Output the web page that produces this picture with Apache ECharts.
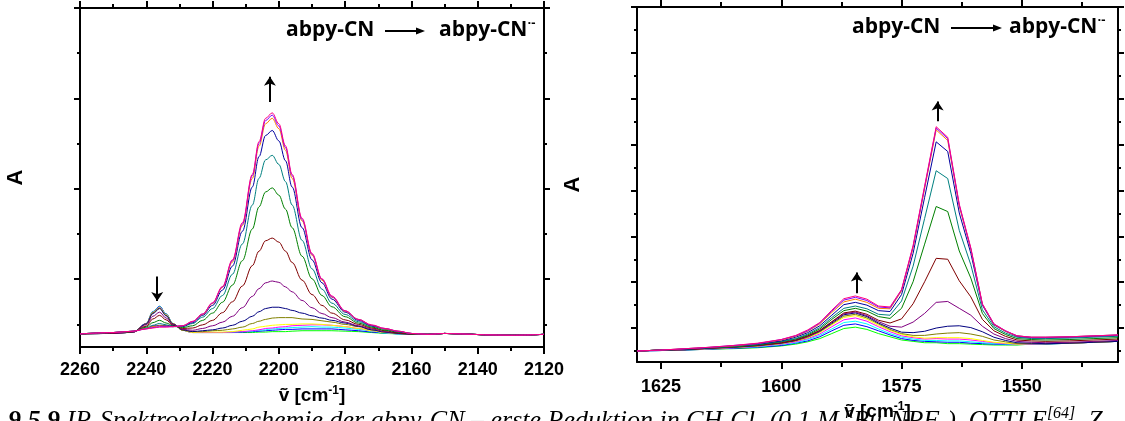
<!DOCTYPE html>
<html>
<head>
<meta charset="utf-8">
<script src="https://cdn.jsdelivr.net/npm/echarts@6/dist/echarts.min.js"></script>
<style>
  html, body { margin: 0; padding: 0; background: #ffffff; }
  #chart { width: 1125px; height: 421px; }
</style>
</head>
<body>
<div id="chart"></div>
<script>
// ---------- Nitrile stretch region (left panel), wavenumbers in cm^-1 ----------
const cnWave = [2260,2250,2244,2240,2238,2236,2234,2232,2229,2226,2223,2220,2217,2214,2211,2208,2206,2204,2202,2200,2198,2196,2193,2190,2187,2184,2180,2176,2172,2168,2164,2160,2155,2150,2145,2138,2130,2120];

// absorbance traces, in the order they were recorded during the reduction
const cnStep01 = [-0.021,-0.020,-0.017,0.002,0.028,0.040,0.023,0.002,-0.013,-0.018,-0.018,-0.018,-0.018,-0.018,-0.018,-0.018,-0.017,-0.017,-0.016,-0.016,-0.016,-0.015,-0.014,-0.014,-0.014,-0.014,-0.015,-0.016,-0.018,-0.020,-0.021,-0.022,-0.022,-0.020,-0.021,-0.023,-0.024,-0.022];
const cnStep02 = [-0.021,-0.020,-0.017,0.002,0.028,0.040,0.023,0.002,-0.013,-0.018,-0.018,-0.018,-0.018,-0.018,-0.017,-0.016,-0.015,-0.014,-0.013,-0.012,-0.011,-0.011,-0.010,-0.010,-0.010,-0.010,-0.012,-0.014,-0.017,-0.019,-0.021,-0.022,-0.022,-0.020,-0.021,-0.023,-0.024,-0.022];
const cnStep03 = [-0.021,-0.020,-0.017,0.002,0.028,0.039,0.022,0.002,-0.013,-0.018,-0.018,-0.018,-0.018,-0.017,-0.016,-0.015,-0.013,-0.012,-0.010,-0.009,-0.008,-0.007,-0.006,-0.005,-0.006,-0.006,-0.008,-0.011,-0.015,-0.019,-0.021,-0.022,-0.022,-0.020,-0.021,-0.023,-0.024,-0.022];
const cnStep04 = [-0.021,-0.020,-0.017,0.002,0.027,0.038,0.021,0.002,-0.013,-0.018,-0.018,-0.018,-0.018,-0.017,-0.016,-0.014,-0.012,-0.009,-0.008,-0.006,-0.005,-0.003,-0.002,-0.001,-0.001,-0.002,-0.005,-0.009,-0.014,-0.018,-0.020,-0.022,-0.022,-0.020,-0.021,-0.023,-0.024,-0.022];
const cnStep05 = [-0.021,-0.020,-0.017,0.001,0.026,0.037,0.021,0.002,-0.013,-0.018,-0.017,-0.017,-0.017,-0.016,-0.013,-0.010,-0.006,-0.004,-0.002,-0.001,0.000,0.000,0.001,0.001,0.000,-0.002,-0.005,-0.009,-0.014,-0.018,-0.020,-0.022,-0.022,-0.020,-0.021,-0.023,-0.024,-0.022];
const cnStep06 = [-0.021,-0.020,-0.017,0.001,0.026,0.036,0.020,0.001,-0.013,-0.016,-0.016,-0.014,-0.013,-0.010,-0.006,0.002,0.007,0.011,0.014,0.015,0.015,0.015,0.012,0.011,0.008,0.005,0.000,-0.005,-0.012,-0.017,-0.020,-0.022,-0.022,-0.020,-0.021,-0.023,-0.024,-0.022];
const cnStep07 = [-0.021,-0.020,-0.017,0.001,0.024,0.035,0.019,0.001,-0.012,-0.016,-0.014,-0.012,-0.008,-0.002,0.007,0.018,0.028,0.035,0.038,0.038,0.035,0.031,0.025,0.019,0.014,0.009,0.003,-0.004,-0.012,-0.017,-0.020,-0.022,-0.022,-0.020,-0.021,-0.023,-0.024,-0.022];
const cnStep08 = [-0.021,-0.020,-0.017,-0.001,0.018,0.027,0.014,0.000,-0.011,-0.013,-0.009,-0.003,0.005,0.018,0.037,0.062,0.079,0.092,0.096,0.093,0.083,0.072,0.053,0.037,0.024,0.015,0.005,-0.003,-0.010,-0.016,-0.019,-0.022,-0.022,-0.020,-0.021,-0.023,-0.024,-0.022];
const cnStep09 = [-0.021,-0.019,-0.016,-0.004,0.012,0.020,0.010,-0.002,-0.009,-0.008,-0.001,0.009,0.026,0.050,0.085,0.130,0.162,0.185,0.191,0.182,0.162,0.137,0.098,0.066,0.042,0.025,0.010,0.000,-0.008,-0.014,-0.019,-0.021,-0.022,-0.020,-0.021,-0.023,-0.024,-0.022];
const cnStep10 = [-0.021,-0.018,-0.016,-0.006,0.004,0.009,0.003,-0.003,-0.007,-0.003,0.009,0.025,0.049,0.087,0.141,0.211,0.260,0.293,0.302,0.286,0.255,0.214,0.151,0.101,0.064,0.039,0.017,0.003,-0.006,-0.013,-0.017,-0.021,-0.022,-0.020,-0.021,-0.023,-0.024,-0.022];
const cnStep11 = [-0.021,-0.018,-0.015,-0.008,-0.002,0.002,-0.001,-0.005,-0.005,0.002,0.016,0.035,0.064,0.111,0.178,0.264,0.323,0.364,0.374,0.354,0.316,0.264,0.186,0.123,0.078,0.047,0.022,0.006,-0.004,-0.011,-0.016,-0.020,-0.022,-0.020,-0.021,-0.023,-0.024,-0.022];
const cnStep12 = [-0.021,-0.018,-0.015,-0.009,-0.004,-0.002,-0.003,-0.004,-0.004,0.004,0.020,0.042,0.076,0.129,0.206,0.304,0.371,0.418,0.429,0.406,0.362,0.304,0.214,0.143,0.092,0.056,0.027,0.009,-0.003,-0.010,-0.016,-0.020,-0.022,-0.020,-0.021,-0.023,-0.024,-0.022];
const cnStep13 = [-0.021,-0.018,-0.015,-0.009,-0.005,-0.003,-0.004,-0.005,-0.003,0.006,0.022,0.046,0.082,0.138,0.219,0.323,0.394,0.444,0.456,0.433,0.385,0.323,0.229,0.153,0.098,0.060,0.029,0.011,-0.002,-0.010,-0.015,-0.020,-0.022,-0.020,-0.021,-0.023,-0.024,-0.022];
const cnStep14 = [-0.021,-0.018,-0.015,-0.010,-0.007,-0.005,-0.005,-0.005,-0.003,0.006,0.023,0.047,0.083,0.141,0.222,0.329,0.400,0.451,0.463,0.439,0.391,0.329,0.232,0.155,0.100,0.061,0.030,0.011,-0.002,-0.009,-0.015,-0.020,-0.022,-0.020,-0.021,-0.023,-0.024,-0.022];
const cnStep15 = [-0.021,-0.018,-0.015,-0.010,-0.008,-0.006,-0.006,-0.005,-0.003,0.007,0.023,0.048,0.084,0.143,0.225,0.332,0.404,0.456,0.468,0.444,0.395,0.332,0.235,0.157,0.101,0.063,0.030,0.011,-0.001,-0.009,-0.015,-0.020,-0.022,-0.020,-0.021,-0.023,-0.024,-0.022];

// ---------- Ring mode region (right panel) ----------
const ringWave = [1630,1625,1620,1615,1610,1605,1600,1597,1594.5,1592,1589.5,1587,1584.6,1582.2,1579.8,1577.4,1575,1572.6,1570.2,1567.8,1565.4,1563,1560.6,1558.2,1555.8,1553.4,1551,1548,1545,1540,1535,1530];

const ringStep01 = [0,0.001,0.002,0.004,0.005,0.007,0.011,0.015,0.020,0.027,0.038,0.049,0.052,0.047,0.038,0.031,0.024,0.021,0.018,0.018,0.016,0.016,0.015,0.014,0.013,0.013,0.013,0.015,0.015,0.017,0.019,0.021];
const ringStep02 = [0,0.001,0.002,0.004,0.006,0.008,0.012,0.017,0.022,0.031,0.044,0.056,0.059,0.053,0.044,0.035,0.027,0.023,0.021,0.020,0.019,0.019,0.017,0.016,0.015,0.014,0.014,0.015,0.015,0.017,0.019,0.021];
const ringStep03 = [0,0.001,0.003,0.005,0.007,0.009,0.014,0.018,0.025,0.034,0.048,0.062,0.065,0.059,0.048,0.038,0.030,0.026,0.023,0.023,0.022,0.022,0.020,0.018,0.016,0.015,0.014,0.015,0.016,0.017,0.019,0.021];
const ringStep04 = [0,0.001,0.003,0.005,0.007,0.010,0.015,0.020,0.027,0.037,0.053,0.068,0.072,0.065,0.053,0.042,0.033,0.029,0.026,0.027,0.026,0.026,0.024,0.021,0.018,0.016,0.015,0.015,0.016,0.017,0.019,0.021];
const ringStep05 = [0,0.002,0.003,0.005,0.008,0.011,0.016,0.022,0.029,0.040,0.057,0.073,0.077,0.069,0.056,0.045,0.036,0.031,0.028,0.029,0.029,0.029,0.027,0.023,0.019,0.017,0.015,0.016,0.016,0.017,0.019,0.021];
const ringStep06 = [0,0.002,0.003,0.006,0.008,0.011,0.017,0.022,0.030,0.042,0.059,0.076,0.080,0.072,0.059,0.047,0.038,0.034,0.034,0.037,0.039,0.040,0.037,0.032,0.024,0.020,0.016,0.016,0.016,0.017,0.019,0.021];
const ringStep07 = [0,0.002,0.003,0.006,0.008,0.012,0.017,0.023,0.032,0.043,0.061,0.079,0.083,0.075,0.061,0.050,0.041,0.040,0.043,0.050,0.054,0.055,0.051,0.042,0.030,0.023,0.018,0.017,0.016,0.017,0.019,0.021];
const ringStep08 = [0,0.002,0.003,0.006,0.009,0.012,0.018,0.024,0.032,0.044,0.063,0.081,0.085,0.077,0.064,0.054,0.052,0.063,0.082,0.106,0.108,0.093,0.078,0.054,0.037,0.027,0.021,0.019,0.018,0.019,0.021,0.023];
const ringStep09 = [0,0.002,0.003,0.006,0.009,0.012,0.018,0.024,0.033,0.045,0.064,0.083,0.087,0.080,0.067,0.061,0.070,0.103,0.151,0.202,0.200,0.153,0.118,0.069,0.044,0.032,0.024,0.022,0.021,0.022,0.024,0.026];
const ringStep10 = [0,0.002,0.004,0.007,0.009,0.013,0.020,0.026,0.035,0.048,0.069,0.088,0.093,0.087,0.075,0.071,0.093,0.151,0.233,0.315,0.304,0.218,0.159,0.082,0.049,0.036,0.027,0.025,0.024,0.025,0.027,0.029];
const ringStep11 = [0,0.002,0.004,0.007,0.010,0.014,0.021,0.027,0.037,0.051,0.073,0.093,0.098,0.092,0.080,0.078,0.109,0.185,0.289,0.393,0.376,0.263,0.188,0.090,0.053,0.039,0.030,0.027,0.027,0.028,0.030,0.032];
const ringStep12 = [0,0.002,0.004,0.007,0.011,0.015,0.022,0.030,0.040,0.055,0.078,0.101,0.106,0.100,0.088,0.086,0.123,0.213,0.335,0.456,0.435,0.301,0.213,0.100,0.057,0.043,0.032,0.029,0.029,0.030,0.032,0.034];
const ringStep13 = [0,0.002,0.005,0.008,0.011,0.016,0.024,0.032,0.043,0.059,0.084,0.107,0.113,0.106,0.093,0.092,0.131,0.225,0.354,0.482,0.459,0.315,0.222,0.102,0.058,0.043,0.033,0.030,0.030,0.031,0.033,0.035];
const ringStep14 = [0,0.002,0.005,0.008,0.012,0.016,0.025,0.033,0.044,0.061,0.087,0.111,0.117,0.110,0.096,0.094,0.133,0.228,0.357,0.486,0.463,0.318,0.223,0.102,0.059,0.044,0.033,0.030,0.030,0.031,0.033,0.035];
const ringStep15 = [0,0.002,0.005,0.008,0.012,0.017,0.025,0.034,0.046,0.062,0.089,0.114,0.120,0.113,0.098,0.096,0.134,0.230,0.360,0.489,0.466,0.320,0.225,0.103,0.059,0.044,0.033,0.030,0.030,0.031,0.033,0.035];

// trace colours, one per recorded spectrum
const traceColors = ['#00ff00','#0000ff','#00ffff','#ff00ff','#ffff00','#808000','#000080','#800080','#800000','#008000','#008080','#0000a0','#ff8000','#8000ff','#ff0080'];

// axis ticks
const cnTickStep = 20;
const cnYMajor = [0.1, 0.3, 0.5, 0.7];
const cnYMinor = [0.0, 0.2, 0.4, 0.6];
const ringXMajor = [1625, 1600, 1575, 1550];
const ringXMinor = [1612.5, 1587.5, 1562.5, 1537.5];
const ringYMajor = [0.05, 0.15, 0.25, 0.35, 0.45, 0.55, 0.65, 0.75];
const ringYMinor = [0.0, 0.1, 0.2, 0.3, 0.4, 0.5, 0.6, 0.7];

// trend arrows: [wavenumber, tail absorbance, tip absorbance]
const cnArrows = [[2202.7, 0.492, 0.548], [2236.7, 0.106, 0.052]];
const ringArrows = [[1567.5, 0.501, 0.544], [1584.3, 0.126, 0.171]];

// text
const annotationFrom = 'abpy-CN';
const annotationTo = 'abpy-CN';
const annotationCharge = '·-';
const axisTitle = 'ṽ [cm{s|-1}]';
const captionText = '{b|9.5.9} IR-Spektroelektrochemie der abpy-CN – erste Reduktion in CH{d|2}Cl{d|2} (0.1 M {u|n}Bu{d|4}NPF{d|6}), OTTLE{u|[64]}, Z';

// ---------- building the chart ----------
const cnSteps = [cnStep01,cnStep02,cnStep03,cnStep04,cnStep05,cnStep06,cnStep07,cnStep08,cnStep09,cnStep10,cnStep11,cnStep12,cnStep13,cnStep14,cnStep15];
const ringSteps = [ringStep01,ringStep02,ringStep03,ringStep04,ringStep05,ringStep06,ringStep07,ringStep08,ringStep09,ringStep10,ringStep11,ringStep12,ringStep13,ringStep14,ringStep15];

const SANS = '"Liberation Sans", Arial, "DejaVu Sans", sans-serif';
const black2 = { color: '#000', width: 2 };
const tickLabel = { color: '#000', fontSize: 18, fontWeight: 'bold', fontFamily: SANS, formatter: v => String(v) };
const titleStyle = {
  color: '#000', fontSize: 19, fontWeight: 'bold', fontFamily: SANS, lineHeight: 22,
  rich: { s: { color: '#000', fontSize: 12, fontWeight: 'bold', fontFamily: SANS, lineHeight: 12, verticalAlign: 'top' } }
};
const yNameStyle = { color: '#000', fontSize: 22, fontWeight: 'bold', fontFamily: SANS };
const hiddenLine = { show: false, onZero: false };

function frameAxis(extra) {
  return Object.assign({
    type: 'value',
    splitLine: { show: false },
    minorSplitLine: { show: false },
    axisLine: { show: true, onZero: false, lineStyle: black2 },
    axisLabel: { show: false },
    axisTick: { show: false }
  }, extra);
}

const xAxes = [
  // nitrile panel, bottom
  frameAxis({
    gridIndex: 0, position: 'bottom', min: 2120, max: 2260, interval: cnTickStep, inverse: true,
    axisTick: { show: true, length: 7, lineStyle: black2 },
    minorTick: { show: true, splitNumber: 2, length: 4, lineStyle: black2 },
    axisLabel: Object.assign({ show: true, margin: 14 }, tickLabel),
    name: axisTitle, nameLocation: 'middle', nameGap: 38, nameTextStyle: titleStyle
  }),
  // nitrile panel, top frame
  frameAxis({
    gridIndex: 0, position: 'top', min: 2120, max: 2260, interval: cnTickStep, inverse: true,
    axisTick: { show: true, length: 7, lineStyle: black2 },
    minorTick: { show: true, splitNumber: 2, length: 4, lineStyle: black2 }
  }),
  // ring panel, bottom (major ticks and labels)
  frameAxis({
    gridIndex: 1, position: 'bottom', min: 1530, max: 1630, inverse: true,
    axisTick: { show: true, length: 7, customValues: ringXMajor, lineStyle: black2 },
    axisLabel: Object.assign({ show: true, margin: 16, customValues: ringXMajor }, tickLabel),
    name: axisTitle, nameLocation: 'middle', nameGap: 38, nameTextStyle: titleStyle
  }),
  // ring panel, bottom minor ticks
  frameAxis({
    gridIndex: 1, position: 'bottom', min: 1530, max: 1630, inverse: true,
    axisLine: hiddenLine,
    axisTick: { show: true, length: 5, customValues: ringXMinor, lineStyle: black2 }
  }),
  // ring panel, top frame
  frameAxis({
    gridIndex: 1, position: 'top', min: 1530, max: 1630, inverse: true,
    axisTick: { show: true, length: 7, customValues: ringXMajor, lineStyle: black2 }
  }),
  frameAxis({
    gridIndex: 1, position: 'top', min: 1530, max: 1630, inverse: true,
    axisLine: hiddenLine,
    axisTick: { show: true, length: 5, customValues: ringXMinor, lineStyle: black2 }
  })
];

function yPair(gridIndex, position, min, max, major, minor, withName) {
  const main = frameAxis({
    gridIndex, position, min, max,
    axisTick: { show: true, length: 6, customValues: major, lineStyle: black2 }
  });
  if (withName) {
    Object.assign(main, { name: 'A', nameLocation: 'middle', nameGap: 53, nameRotate: 90, nameTextStyle: yNameStyle });
  }
  const sub = frameAxis({
    gridIndex, position, min, max,
    axisLine: hiddenLine,
    axisTick: { show: true, length: 3, customValues: minor, lineStyle: black2 }
  });
  return [main, sub];
}

const yAxes = [].concat(
  yPair(0, 'left', -0.05, 0.70, cnYMajor, cnYMinor, true),      // 0,1
  yPair(0, 'right', -0.05, 0.70, cnYMajor, cnYMinor, false),    // 2,3
  yPair(1, 'left', -0.024, 0.75, ringYMajor, ringYMinor, true), // 4,5
  yPair(1, 'right', -0.024, 0.75, ringYMajor, ringYMinor, false)// 6,7
);

function arrowMarks(list) {
  return {
    silent: true,
    animation: false,
    symbol: ['none', 'arrow'],
    symbolSize: 9,
    lineStyle: { color: '#000', width: 2, type: 'solid' },
    label: { show: false },
    emphasis: { disabled: true },
    data: list.map(a => [{ coord: [a[0], a[1]] }, { coord: [a[0], a[2]] }])
  };
}

const series = [];
cnSteps.forEach((vals, i) => {
  series.push({
    type: 'line', xAxisIndex: 0, yAxisIndex: 0,
    data: cnWave.map((w, k) => [w, vals[k]]),
    showSymbol: false, symbol: 'none', smooth: 0.35, smoothMonotone: 'x',
    lineStyle: { width: 1, color: traceColors[i] }, itemStyle: { color: traceColors[i] },
    silent: true, animation: false,
    markLine: i === cnSteps.length - 1 ? arrowMarks(cnArrows) : undefined
  });
});
ringSteps.forEach((vals, i) => {
  series.push({
    type: 'line', xAxisIndex: 2, yAxisIndex: 4,
    data: ringWave.map((w, k) => [w, vals[k]]),
    showSymbol: false, symbol: 'none', smooth: false,
    lineStyle: { width: 1, color: traceColors[i] }, itemStyle: { color: traceColors[i] },
    silent: true, animation: false,
    markLine: i === ringSteps.length - 1 ? arrowMarks(ringArrows) : undefined
  });
});

// "abpy-CN --> abpy-CN radical anion" heading inside each panel
function reactionLabel(x1, x2, arrowStart, arrowEnd, y) {
  const font = { fontSize: 21, fontWeight: 'bold', fontFamily: '"Open Sans", sans-serif', fill: '#000' };
  return {
    type: 'group',
    silent: true,
    children: [
      { type: 'text', x: x1, y: y, style: Object.assign({ text: annotationFrom, verticalAlign: 'middle', align: 'left' }, font) },
      { type: 'line', shape: { x1: arrowStart, y1: y + 1, x2: arrowEnd - 7, y2: y + 1 }, style: { stroke: '#000', lineWidth: 2 } },
      { type: 'polygon', shape: { points: [[arrowEnd - 9, y - 2.5], [arrowEnd, y + 1], [arrowEnd - 9, y + 4.5]] }, style: { fill: '#000' } },
      { type: 'text', x: x2, y: y, style: Object.assign({
          text: annotationTo + '{s|' + annotationCharge + '}', verticalAlign: 'middle', align: 'left', lineHeight: 26,
          rich: { s: { fontSize: 13, fontWeight: 'bold', fontFamily: '"Open Sans", sans-serif', fill: '#000', lineHeight: 12, verticalAlign: 'top' } }
        }, font) }
    ]
  };
}

const SERIF = '"Liberation Serif", "Times New Roman", serif';
const caption = {
  type: 'text', left: 8, top: 406, silent: true,
  style: {
    text: captionText,
    fontSize: 26, fontStyle: 'italic', fontFamily: SERIF, fill: '#000', lineHeight: 30,
    rich: {
      b: { fontSize: 26, fontStyle: 'italic', fontWeight: 'bold', fontFamily: SERIF, fill: '#000', lineHeight: 30 },
      d: { fontSize: 16, fontStyle: 'italic', fontFamily: SERIF, fill: '#000', lineHeight: 30, verticalAlign: 'bottom' },
      u: { fontSize: 16, fontStyle: 'italic', fontFamily: SERIF, fill: '#000', lineHeight: 15, verticalAlign: 'top' }
    }
  }
};

const chart = echarts.init(document.getElementById('chart'), null, { renderer: 'canvas' });
chart.setOption({
  backgroundColor: '#ffffff',
  animation: false,
  grid: [
    { left: 80, top: 8, width: 464, height: 339, outerBoundsMode: 'none', containLabel: false },
    { left: 637, top: 7, width: 481, height: 355, outerBoundsMode: 'none', containLabel: false }
  ],
  xAxis: xAxes,
  yAxis: yAxes,
  series: series,
  graphic: [
    reactionLabel(286, 439, 385, 425, 30),
    reactionLabel(852, 1009, 951, 1002, 27),
    caption
  ]
});
</script>
</body>
</html>
